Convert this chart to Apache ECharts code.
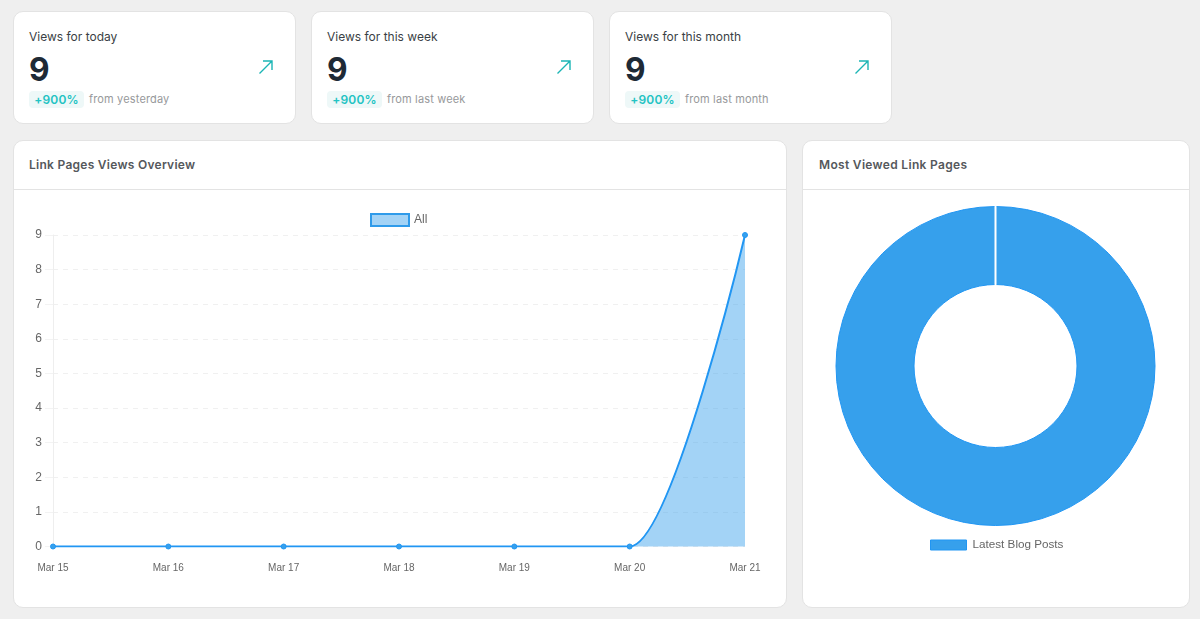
<!DOCTYPE html>
<html><head><meta charset="utf-8">
<script src="https://cdn.jsdelivr.net/npm/echarts@6/dist/echarts.min.js"></script>
<style>
html,body{margin:0;padding:0;width:1200px;height:619px;overflow:hidden;background:#efefef;font-family:Inter,sans-serif}
.card,.panel{position:absolute;box-sizing:border-box;background:#fff;border:1px solid #e3e3e3;border-radius:10px}
.card{top:11px;height:113px;width:283px}
.t{position:absolute;left:15px;top:16px;font-size:12px;line-height:18px;color:#3a3f45;letter-spacing:0;white-space:nowrap}
.n{position:absolute;left:15px;top:37px;font-size:33px;line-height:40px;font-weight:700;color:#1e2a36;transform:scaleX(.96);transform-origin:left}
.b{position:absolute;left:15px;top:79px;height:17px;width:55px;border-radius:4px;background:#eef8f8;color:#22c3c3;font-size:12px;font-weight:600;line-height:17px;text-align:center;letter-spacing:.2px}
.f{position:absolute;left:75px;top:79px;line-height:17px;font-size:11px;color:#97999b;letter-spacing:.15px;white-space:nowrap}
.card svg{position:absolute;left:244px;top:47px}
.panel{top:140px;height:468px}
.h{position:absolute;left:15px;top:15px;font-size:12px;line-height:18px;font-weight:600;color:#55585c;letter-spacing:.27px;white-space:nowrap}
.r{position:absolute;left:0;right:0;top:48px;height:1px;background:#e3e3e3}
#c{position:absolute;left:0;top:0;width:1200px;height:619px}
</style></head><body>
<div id="cards"></div>
<div class="panel" style="left:13px;width:774px"><div class="h">Link Pages Views Overview</div><div class="r"></div></div>
<div class="panel" style="left:802px;width:388px"><div class="h" style="left:16px;letter-spacing:.32px">Most Viewed Link Pages</div><div class="r"></div></div>
<div id="c"></div>
<script>
const cardLefts=[13,311,609];
const cardTitles=['Views for today','Views for this week','Views for this month'];
const cardValues=['9','9','9'];
const cardChanges=['+900%','+900%','+900%'];
const cardNotes=['from yesterday','from last week','from last month'];
const days=['Mar 15','Mar 16','Mar 17','Mar 18','Mar 19','Mar 20','Mar 21'];
const views=[0,0,0,0,0,0,9];
const pieNames=['Latest Blog Posts'];
const pieValues=[9];

document.getElementById('cards').innerHTML=cardTitles.map((t,i)=>`<div class="card" style="left:${cardLefts[i]}px"><div class="t">${t}</div><div class="n">${cardValues[i]}</div><div class="b">${cardChanges[i]}</div><div class="f">${cardNotes[i]}</div><svg width="16" height="16" viewBox="0 0 16 16" fill="none" stroke="#1bb5b5" stroke-width="1.4"><path d="M1.5 14.5 L14 2 M5 2 H14 V11"/></svg></div>`).join('');

const chart=echarts.init(document.getElementById('c'),null,{renderer:'canvas'});
const F='"Liberation Sans",Arial,sans-serif';
chart.setOption({
 animation:false,
 backgroundColor:'transparent',
 legend:[
  {data:['All'],left:370,top:213,itemWidth:38,itemHeight:12,itemGap:5,padding:0,textStyle:{fontFamily:F,fontSize:12,color:'#666',padding:[0,0,0,0]},
   itemStyle:{color:'rgba(54,160,236,.46)',borderColor:'#2f9bea',borderWidth:2},icon:'rect'},
  {data:pieNames,left:930,top:539,itemWidth:36,itemHeight:10,itemGap:5,padding:0,textStyle:{fontFamily:F,fontSize:11.7,color:'#666',padding:[0,0,0,1]},
   itemStyle:{color:'#36a0ec',borderColor:'#2196f3',borderWidth:1},icon:'rect'}
 ],
 grid:{left:53,right:455,top:235,bottom:72.5},
 xAxis:{type:'category',data:days,boundaryGap:false,
  axisLine:{show:false},axisTick:{show:false},splitLine:{show:false},
  axisLabel:{fontFamily:F,fontSize:10,color:'#666',margin:17}},
 yAxis:{type:'value',min:0,max:9,interval:1,
  axisLine:{show:true,lineStyle:{color:'#eeeeee',width:1}},
  axisTick:{show:true,length:8,lineStyle:{color:'#f3f3f3'}},
  splitLine:{show:true,lineStyle:{color:'#f0f0f0',type:[5,5],width:1}},
  axisLabel:{fontFamily:F,fontSize:12,color:'#666',margin:11}},
 series:[
  {type:'line',name:'All',data:views,smooth:0.36,smoothMonotone:'x',
   symbol:'circle',symbolSize:5,showSymbol:true,
   lineStyle:{color:'#2196f3',width:2},
   itemStyle:{color:'#36a0ec',borderColor:'#2196f3',borderWidth:1},
   areaStyle:{color:'rgba(54,160,236,.46)',opacity:1,origin:'start'},z:3},
  {type:'pie',name:'Pages',center:[995.5,366],radius:[81.5,159.5],
   startAngle:90,
   label:{show:false},labelLine:{show:false},silent:true,
   stillShowZeroSum:true,
   data:pieNames.map((n,i)=>({name:n,value:pieValues[i]})).concat([{name:'',value:0,itemStyle:{borderColor:'#fff',borderWidth:2}}]),
   itemStyle:{color:'#36a0ec',borderColor:'#2196f3',borderWidth:1}}
 ]
});
</script></body></html>
